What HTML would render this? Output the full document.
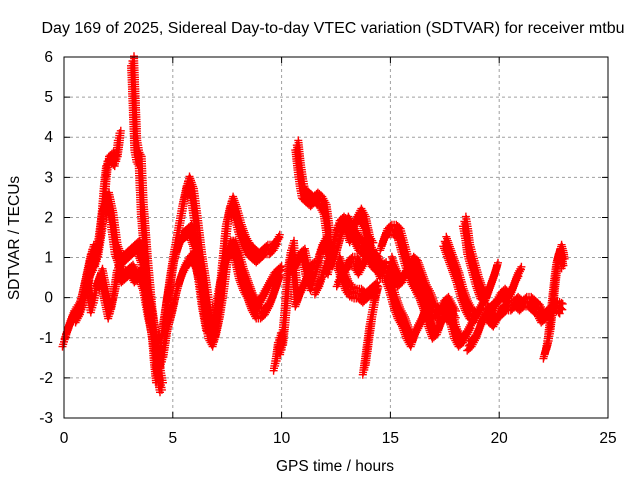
<!DOCTYPE html>
<html><head><meta charset="utf-8"><style>
html,body{margin:0;padding:0;background:#fff;}
svg{display:block;font-family:"Liberation Sans",sans-serif;}
</style></head><body>
<svg id="chart" width="640" height="480">
<rect width="640" height="480" fill="#fff"/>
<text x="333" y="33" font-size="15.5" text-anchor="middle" textLength="583" lengthAdjust="spacingAndGlyphs">Day 169 of 2025, Sidereal Day-to-day VTEC variation (SDTVAR) for receiver mtbu</text>
<text x="335" y="471" font-size="15.5" text-anchor="middle">GPS time / hours</text>
<text transform="translate(19,238) rotate(-90)" font-size="15.5" text-anchor="middle">SDTVAR / TECUs</text>
<g id="grid"></g>
<g id="ticks"></g>
<g id="marks"></g>
<rect x="64" y="57" width="544" height="361" fill="none" stroke="#000" stroke-width="1"/>
</svg>
<script>
const xTicks = [0,5,10,15,20,25];
const yTicks = [-3,-2,-1,0,1,2,3,4,5,6];
const track1 = [[0,-1.1],[0.2,-0.75],[0.4,-0.45],[0.6,-0.5],[0.8,-0.3],[1.0,0.1],[1.2,0.6],[1.4,0.8],[1.6,1.4],[1.8,2.2],[2.0,2.5],[2.2,2.0],[2.4,1.2],[2.6,0.9],[2.8,1.0],[3.0,1.1],[3.2,1.2],[3.4,1.3],[3.6,1.0],[3.8,0.2],[4.0,-0.5],[4.2,-1.2],[4.4,-2.0],[4.5,-2.3]];
const track2 = [[0.1,-0.9],[0.3,-0.6],[0.5,-0.35],[0.7,-0.2],[0.9,0.2],[1.1,0.7],[1.3,1.2],[1.5,0.9],[1.7,1.6],[1.9,2.9],[2.0,3.4],[2.2,3.5],[2.4,3.4],[2.5,3.8],[2.55,4.1]];
const track3 = [[1.1,0.3],[1.3,-0.25],[1.5,0.3],[1.7,0.6],[1.9,0.1],[2.1,-0.4],[2.3,0.1],[2.5,0.8],[2.7,0.5],[2.9,0.6],[3.1,0.7],[3.3,0.5],[3.5,0.6],[3.7,0.3],[3.9,-0.3],[4.1,-0.8],[4.3,-1.4],[4.5,-1.6],[4.7,-0.9],[4.9,-0.5],[5.1,0.0],[5.3,0.4],[5.5,0.7],[5.7,0.9],[5.9,1.0],[6.1,0.9],[6.3,0.5],[6.5,-0.3],[6.7,-0.9],[6.9,-1.1],[7.1,-0.6],[7.3,0.1],[7.5,1.0],[7.7,1.3],[7.9,1.1],[8.1,0.6],[8.3,0.3],[8.5,0.1],[8.7,-0.2],[8.9,-0.4],[9.1,-0.4],[9.3,-0.3],[9.5,-0.1],[9.7,0.2],[9.9,0.5]];
const track4 = [[3.15,5.9],[3.2,5.2],[3.25,4.5],[3.3,3.8],[3.4,3.5],[3.5,3.4],[3.55,2.8],[3.6,2.2],[3.7,1.5],[3.8,0.8],[3.9,0.2],[4.0,-0.4],[4.1,-0.8],[4.2,-1.5],[4.3,-2.0],[4.4,-1.6]];
const track5 = [[4.5,-1.0],[4.7,-0.3],[4.9,0.5],[5.1,1.2],[5.3,1.8],[5.5,2.4],[5.7,2.9],[5.9,2.6],[6.1,1.8],[6.3,0.9],[6.5,0.2],[6.7,-0.6],[6.9,-1.0],[7.1,-0.3],[7.3,0.8],[7.5,1.9],[7.7,2.4],[7.9,2.1],[8.1,1.7],[8.3,1.4],[8.5,1.2],[8.7,1.1],[8.9,1.0],[9.1,1.1],[9.3,1.2],[9.5,1.2],[9.7,1.3],[9.9,1.5]];
const track6 = [[4.6,-0.6],[4.8,0.1],[5.0,0.8],[5.2,1.2],[5.4,1.5],[5.6,1.6],[5.8,1.7],[6.0,1.4],[6.2,0.7],[6.4,-0.1],[6.6,-0.7],[6.8,-0.8],[7.0,-0.2],[7.2,0.4],[7.4,0.9],[7.6,1.3],[7.8,1.3],[8.0,1.0],[8.2,0.6],[8.4,0.3],[8.6,0.0],[8.8,-0.2],[9.0,-0.1],[9.2,0.1],[9.4,0.3],[9.6,0.5],[9.8,0.6],[10.0,0.7]];
const track7 = [[9.7,-1.7],[9.8,-1.4],[9.9,-1.0],[10.0,-1.3],[10.1,-0.8],[10.2,-0.2],[10.3,0.5],[10.4,1.0],[10.5,1.3],[10.6,0.5],[10.7,-0.1],[10.9,0.2],[11.1,0.4],[11.3,0.7],[11.5,0.8]];
const track8 = [[10.7,3.8],[10.8,3.3],[10.9,2.9],[11.0,2.6],[11.2,2.5],[11.4,2.4],[11.6,2.5],[11.8,2.4],[12.0,2.2],[12.1,1.8],[12.2,1.4]];
const track9 = [[10.6,0.8],[10.8,1.0],[11.0,1.1],[11.2,0.6],[11.4,0.3],[11.6,0.7],[11.8,1.2],[12.0,1.4],[12.2,1.1],[12.4,0.9],[12.6,1.3],[12.8,1.7],[13.0,1.9],[13.2,1.7],[13.4,1.5],[13.6,1.3],[13.8,1.2],[14.0,1.1],[14.2,0.9],[14.4,0.8],[14.6,0.7],[14.8,0.8]];
const track10 = [[11.6,0.2],[11.8,0.4],[12.0,0.8],[12.2,0.7],[12.4,1.4],[12.6,1.8],[12.8,1.9],[13.0,1.8],[13.2,1.5],[13.4,1.9],[13.6,2.1],[13.8,1.9],[14.0,1.4],[14.2,1.2]];
const track11 = [[12.6,0.9],[12.8,0.6],[13.0,0.3],[13.2,0.15],[13.4,0.1],[13.6,0.1],[13.8,0.0],[14.0,0.1],[14.2,0.2],[14.4,0.3]];
const track12 = [[13.8,-1.8],[13.9,-1.4],[14.0,-1.0],[14.1,-0.6],[14.2,-0.3],[14.3,0.0],[14.4,0.2]];
const track13 = [[12.6,0.4],[12.8,0.6],[13.0,0.8],[13.2,0.9],[13.4,0.9],[13.6,0.7],[13.8,0.9],[14.0,1.1],[14.2,1.0],[14.4,0.9],[14.6,0.6],[14.8,0.6],[15.0,0.3],[15.2,-0.1],[15.4,-0.4],[15.6,-0.6],[15.8,-0.9],[16.0,-1.1],[16.2,-0.8],[16.4,-0.6],[16.6,-0.3],[16.8,-0.2]];
const track14 = [[14.6,1.3],[14.8,1.6],[15.0,1.7],[15.2,1.7],[15.4,1.6],[15.6,1.2],[15.8,0.8],[16.0,0.5],[16.2,0.3],[16.4,0.1],[16.6,-0.2],[16.8,-0.6],[17.0,-0.9],[17.2,-0.8],[17.4,-0.5],[17.6,-0.4],[17.8,-0.5],[18.0,-0.9],[18.2,-1.1],[18.4,-1.0],[18.6,-0.8],[18.8,-0.6]];
const track15 = [[15.0,0.9],[15.2,0.6],[15.4,0.4],[15.6,0.5],[15.8,0.7],[16.0,0.9],[16.2,0.8],[16.4,0.5],[16.6,0.2],[16.8,0.0],[17.0,-0.3],[17.2,-0.4],[17.4,-0.2],[17.6,-0.1],[17.8,-0.3],[18.0,-0.5]];
const track16 = [[17.5,1.4],[17.7,1.1],[17.9,0.8],[18.1,0.5],[18.3,0.1],[18.5,-0.2],[18.7,-0.4],[18.9,-0.5],[19.1,-0.3],[19.3,-0.1]];
const track17 = [[18.4,1.9],[18.5,1.6],[18.6,1.2],[18.8,0.8],[19.0,0.4],[19.2,0.1],[19.4,0.0],[19.6,0.3],[19.8,0.6],[19.9,0.8]];
const track18 = [[18.6,-1.2],[18.8,-1.1],[19.0,-0.9],[19.2,-0.6],[19.4,-0.4],[19.6,-0.3],[19.8,-0.2],[20.0,0.0],[20.2,0.1],[20.4,0.0],[20.6,0.2],[20.8,0.5],[21.0,0.7]];
const track19 = [[19.4,-0.3],[19.6,-0.5],[19.8,-0.6],[20.0,-0.4],[20.2,-0.3],[20.4,-0.2],[20.6,-0.2],[20.8,-0.1],[21.0,-0.2],[21.2,-0.1],[21.4,-0.1],[21.6,-0.2],[21.8,-0.3],[22.0,-0.5],[22.2,-0.4],[22.4,-0.3],[22.6,-0.2],[22.8,-0.25],[22.9,-0.3]];
const track20 = [[22.1,-1.4],[22.2,-1.2],[22.3,-0.9],[22.4,-0.4],[22.5,0.1],[22.6,0.6],[22.7,1.0],[22.8,1.2],[22.9,1.0],[22.95,0.8]];
const tracks = [track1,track2,track3,track4,track5,track6,track7,track8,track9,track10,track11,track12,track13,track14,track15,track16,track17,track18,track19,track20];

const X0=64,X1=608,Y0=418,Y1=57,XMIN=0,XMAX=25,YMIN=-3,YMAX=6;
function xs(h){return X0+(h-XMIN)/(XMAX-XMIN)*(X1-X0);}
function ys(v){return Y0-(v-YMIN)/(YMAX-YMIN)*(Y0-Y1);}
const NS="http://www.w3.org/2000/svg";
const grid=document.getElementById('grid'),ticks=document.getElementById('ticks'),marks=document.getElementById('marks');
function mk(tag,attrs,parent){const e=document.createElementNS(NS,tag);for(const k in attrs)e.setAttribute(k,attrs[k]);parent.appendChild(e);return e;}
xTicks.forEach(t=>{
  const x=xs(t);
  if(t>XMIN&&t<XMAX){const g=mk('line',{x1:x,x2:x,y1:Y1,y2:Y0,stroke:'#a0a0a0','stroke-dasharray':'3,3','stroke-width':1},grid);
  
  }
  const tk=mk('path',{d:`M${x},${Y0}v-6M${x},${Y1}v6`,stroke:'#000'},ticks);
  
  
  const lb=mk('text',{x:x,y:Y0+25,'font-size':15.5,'text-anchor':'middle'},ticks);lb.textContent=t;
  
  
});
yTicks.forEach(t=>{
  const y=ys(t);
  if(t>YMIN&&t<YMAX){const g=mk('line',{x1:X0,x2:X1,y1:y,y2:y,stroke:'#a0a0a0','stroke-dasharray':'3,3','stroke-width':1},grid);
  
  }
  const tk=mk('path',{d:`M${X0},${y}h6M${X1},${y}h-6`,stroke:'#000'},ticks);
  
  
  const lb=mk('text',{x:X0-11,y:y+5,'font-size':15.5,'text-anchor':'end'},ticks);lb.textContent=t;
  
  
});
const offsets=[-0.12,0,0.12];
tracks.forEach((tr,ti)=>{
  let d='';
  function plus(x,y){d+=`M${(x-4).toFixed(1)},${y.toFixed(1)}h8M${x.toFixed(1)},${(y-4).toFixed(1)}v8`;}
  for(let i=0;i+1<tr.length;i++){
    const a=tr[i],b=tr[i+1];
    const ax=xs(a[0]),bx=xs(b[0]);
    const n=Math.max(2,Math.ceil(Math.hypot(bx-ax,ys(b[1])-ys(a[1]))/2.5));
    for(let k=0;k<n;k++){
      const f=k/n;
      offsets.forEach((o,oi)=>{
        const x=ax+(bx-ax)*f+(oi-1)*1.5;
        const y=ys(a[1]+(b[1]-a[1])*f+o);
        plus(x,y);
      });
    }
  }
  const last=tr[tr.length-1];plus(xs(last[0]),ys(last[1]));
  const p=mk('path',{d:d,stroke:'#ff0000','stroke-width':1.4,fill:'none'},marks);
  
  
});
</script>
</body></html>
